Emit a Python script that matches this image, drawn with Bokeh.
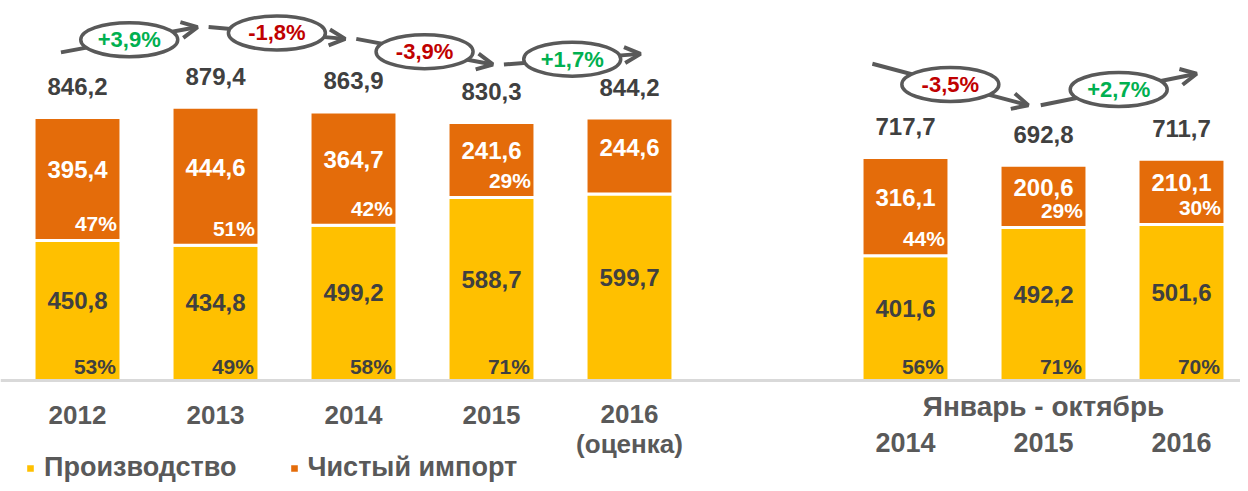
from bokeh.plotting import figure
from bokeh.models import ColumnDataSource, Range1d, Arrow, OpenHead, Legend, LegendItem, Span
from bokeh.core.properties import value
from bokeh.embed import file_html
from bokeh.resources import INLINE

# ---------------- data ----------------
annual_labels = ["2012", "2013", "2014", "2015", "2016\n(оценка)"]
annual_production = [450.8, 434.8, 499.2, 588.7, 599.7]
annual_import = [395.4, 444.6, 364.7, 241.6, 244.6]
annual_total = [846.2, 879.4, 863.9, 830.3, 844.2]
annual_prod_share = ["53%", "49%", "58%", "71%", ""]
annual_import_share = ["47%", "51%", "42%", "29%", ""]
annual_growth = ["+3,9%", "-1,8%", "-3,9%", "+1,7%"]

ytd_title = "Январь - октябрь"
ytd_labels = ["2014", "2015", "2016"]
ytd_production = [401.6, 492.2, 501.6]
ytd_import = [316.1, 200.6, 210.1]
ytd_total = [717.7, 692.8, 711.7]
ytd_prod_share = ["56%", "71%", "70%"]
ytd_import_share = ["44%", "29%", "30%"]
ytd_growth = ["-3,5%", "+2,7%"]

series_names = ["Производство", "Чистый импорт"]

# ---------------- style ----------------
YELLOW = "#FFC000"
ORANGE = "#E46C0A"
DARK = "#404040"
GRAY = "#595959"
GREEN = "#00B050"
RED = "#C00000"
FONT_NAME = "Liberation Sans"
FONT = value(FONT_NAME)
BAR_W = 0.63
W, H = 1240, 483
PX_PER_SLOT = 138.0
PX_PER_UNIT = 0.3108
BASE_PX = 380          # baseline distance from top, px
FIRST_CENTER_PX = 77   # centre of first bar, px


def fmt(v):
    return f"{v:.1f}".replace(".", ",")


annual_x = list(range(len(annual_labels)))
ytd_x = [len(annual_labels) + 1 + i for i in range(len(ytd_labels))]

xs = annual_x + ytd_x
production = annual_production + ytd_production
net_import = annual_import + ytd_import
total = annual_total + ytd_total

src = ColumnDataSource(dict(
    x=xs,
    xr=[x + BAR_W / 2 for x in xs],
    production=production,
    net_import=net_import,
    total=total,
    prod_mid=[v / 2 for v in production],
    imp_mid=[pv + iv / 2 for pv, iv in zip(production, net_import)],
    zero=[0] * len(xs),
    total_txt=[fmt(v) for v in total],
    prod_txt=[fmt(v) for v in production],
    imp_txt=[fmt(v) for v in net_import],
    prod_share=annual_prod_share + ytd_prod_share,
    imp_share=annual_import_share + ytd_import_share,
))

x0 = -FIRST_CENTER_PX / PX_PER_SLOT
y1 = BASE_PX / PX_PER_UNIT
p = figure(width=W, height=H,
           x_range=Range1d(x0, x0 + W / PX_PER_SLOT),
           y_range=Range1d(y1 - H / PX_PER_UNIT, y1),
           x_axis_location=None, y_axis_location=None,
           output_backend="svg", toolbar_location=None, min_border=0)
p.grid.visible = False
p.outline_line_color = None
p.background_fill_color = "white"

stack = p.vbar_stack(["production", "net_import"], x="x", width=BAR_W, color=[YELLOW, ORANGE],
                     line_color="white", line_width=3, source=src)

p.add_layout(Span(location=0, dimension="width", line_color="#D9D9D9", line_width=3))

common = dict(text_font=FONT, text_font_style="bold", text_baseline="middle", source=src)
p.text(x="x", y="total", text="total_txt", text_align="center", y_offset=-31,
       text_color=DARK, text_font_size="24px", **common)
p.text(x="x", y="imp_mid", text="imp_txt", text_align="center", y_offset=-9,
       text_color="white", text_font_size="24px", **common)
p.text(x="x", y="prod_mid", text="prod_txt", text_align="center", y_offset=-10,
       text_color=DARK, text_font_size="24px", **common)
p.text(x="xr", y="production", text="imp_share", text_align="right", x_offset=-4, y_offset=-17,
       text_color="white", text_font_size="21px", **common)
p.text(x="xr", y="zero", text="prod_share", text_align="right", x_offset=-5, y_offset=-14,
       text_color=DARK, text_font_size="21px", **common)

# category labels (multi-line labels are lifted a little to keep the first line aligned)
lab_src = ColumnDataSource(dict(
    x=annual_x, y=[0] * len(annual_x), t=annual_labels,
    yo=[18 if "\n" in t else 25 for t in annual_labels]))
p.text(x="x", y="y", text="t", text_align="center", text_baseline="top", y_offset="yo",
       text_line_height=1.0, text_color=GRAY, text_font=FONT, text_font_style="bold",
       text_font_size="26px", source=lab_src)
p.text(x=[sum(ytd_x) / len(ytd_x)], y=[0], text=[ytd_title], text_align="center",
       text_baseline="middle", y_offset=26, text_color=GRAY, text_font=FONT,
       text_font_style="bold", text_font_size="28px")
ylab_src = ColumnDataSource(dict(x=ytd_x, y=[0] * len(ytd_x), t=ytd_labels))
p.text(x="x", y="y", text="t", text_align="center", text_baseline="middle", y_offset=62,
       text_color=GRAY, text_font=FONT, text_font_style="bold", text_font_size="27px",
       source=ylab_src)

# growth arrows (drawn from one bar's total towards the next one's)
def arrows(xpos, tots, growth, level, gain, s_off, e_off, drift):
    mean_t = sum(tots) / len(tots)
    f = lambda t: level + gain * (t - mean_t)
    d = dict(xs=[], ys=[], xe=[], ye=[], xm=[], ym=[], g=[], c=[])
    for i, g in enumerate(growth):
        xa = xpos[i] + s_off + drift * i
        xb = xpos[i + 1] + e_off + drift * i
        ya, yb = f(tots[i]), f(tots[i + 1])
        d["xs"].append(xa); d["xe"].append(xb)
        d["ys"].append(ya); d["ye"].append(yb)
        d["xm"].append((xa + xb) / 2); d["ym"].append((ya + yb) / 2)
        d["g"].append(g); d["c"].append(GREEN if g.startswith("+") else RED)
    return d

ad = arrows(annual_x, annual_total, annual_growth, 1072, 2.45, -0.12, -0.13, 0.07)
bd = arrows(ytd_x, ytd_total, ytd_growth, 964, 5.37, -0.24, -0.11, 0.22)
arr_src = ColumnDataSource({k: ad[k] + bd[k] for k in ad})

p.add_layout(Arrow(end=OpenHead(size=16, line_color=GRAY, line_width=4),
                   x_start="xs", y_start="ys", x_end="xe", y_end="ye",
                   line_color=GRAY, line_width=4, source=arr_src, level="underlay"))
p.ellipse(x="xm", y="ym", width=97, height=34, width_units="screen", height_units="screen",
          fill_color="white", line_color=GRAY, line_width=3.5, source=arr_src)
p.text(x="xm", y="ym", text="g", text_color="c", text_align="center", text_baseline="middle",
       text_font=FONT, text_font_style="bold", text_font_size="22px", source=arr_src)

# legend
legend = Legend(items=[LegendItem(label=series_names[0], renderers=[stack[0]]),
                       LegendItem(label=series_names[1], renderers=[stack[1]])],
                location=(24, 0), orientation="horizontal",
                glyph_width=12, glyph_height=12, label_standoff=8, spacing=51,
                padding=0, margin=0, border_line_color=None, background_fill_alpha=0,
                label_text_font=FONT_NAME, label_text_font_size="27px",
                label_text_font_style="bold", label_text_color=GRAY)
p.add_layout(legend)

open("out.html", "w").write(file_html(p, INLINE))
